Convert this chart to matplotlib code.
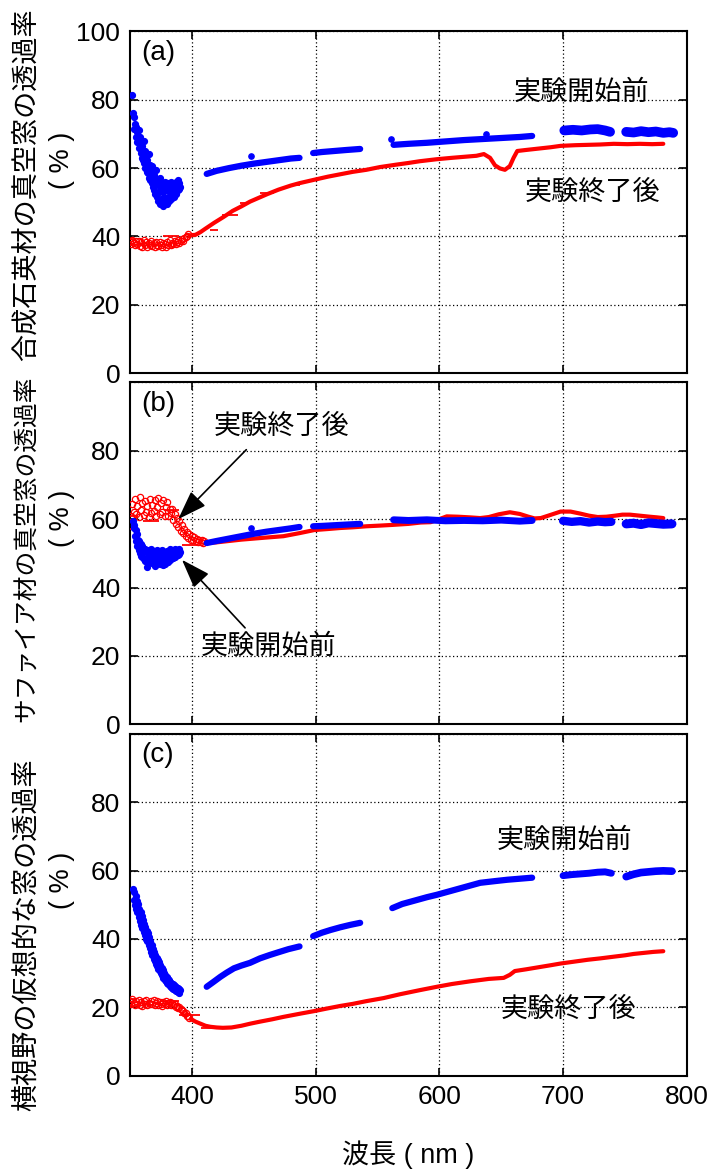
import numpy as np
import matplotlib
matplotlib.use("Agg")
import matplotlib.pyplot as plt

plt.rcParams['font.family'] = ['Liberation Sans', 'Noto Sans CJK JP']

# sampling step of the noisy short-wavelength parts (nm)
step_blue = 0.5
step_red = 1.0

# ---------------- (a) 合成石英材 ----------------
a_blue_noise_x0 = 352.0
a_blue_noise = [81.5, 76.0, 75.0, 71.5, 73.0, 69.0, 72.0, 67.5, 70.5, 68.0,
                71.0, 66.0, 69.0, 64.5, 67.5, 63.0, 66.5, 62.5, 68.0, 61.5,
                65.0, 60.0, 63.5, 59.0, 62.5, 58.5, 64.0, 57.0, 61.0, 56.5,
                59.5, 55.5, 60.5, 54.5, 58.0, 53.5, 57.0, 52.5, 59.5, 51.5,
                56.0, 50.5, 55.0, 53.0, 57.0, 49.5, 54.0, 51.0, 55.5, 49.0,
                53.0, 51.5, 56.0, 50.0, 54.5, 49.5, 53.5, 51.0, 55.5, 50.5,
                54.0, 52.0, 56.0, 51.0, 54.5, 52.5, 55.0, 51.5, 54.0, 53.0,
                56.0, 52.5, 55.0, 53.5, 56.5, 54.0, 55.5, 54.5]
a_blue_segs_x = [[412, 420, 430, 440, 450, 460, 470, 480, 487],
                 [498, 505, 515, 525, 536],
                 [563, 575, 590, 605, 620, 635, 650, 665, 675],
                 [701, 708, 715, 722, 728, 734, 738],
                 [751, 757, 763, 769, 775, 781, 786, 789]]
a_blue_segs_y = [[58.3, 59.2, 60.0, 60.7, 61.3, 61.8, 62.3, 62.8, 63.0],
                 [64.4, 64.7, 65.0, 65.3, 65.6],
                 [66.8, 67.1, 67.4, 67.8, 68.2, 68.5, 68.8, 69.1, 69.4],
                 [71.0, 71.2, 71.0, 71.3, 71.4, 71.0, 70.6],
                 [70.6, 70.4, 70.8, 70.5, 70.7, 70.3, 70.5, 70.3]]
a_blue_extra_x = [448, 561, 638]
a_blue_extra_y = [63.5, 68.6, 70.0]
a_red_noise_x0 = 350
a_red_noise = [38.5, 37.8, 39.0, 38.2, 37.5, 38.8, 37.9, 38.6, 37.3, 38.4,
               37.0, 38.9, 37.6, 38.3, 36.8, 38.1, 37.4, 38.7, 37.2, 38.0,
               36.9, 38.5, 37.6, 37.1, 38.3, 37.5, 36.8, 38.2, 37.7, 37.0,
               38.4, 37.6, 38.9, 37.4, 38.1, 37.8, 38.6, 37.9, 38.3, 39.0,
               38.2, 38.7, 39.3, 38.8, 39.6, 39.9, 40.2, 40.6]
a_red_x = [398, 403, 407, 411, 418, 426, 433, 440, 447, 454,
           461, 470, 480, 487, 499, 510, 520, 530, 541, 552,
           565, 575, 584, 598, 610, 620, 630, 636, 641, 645,
           649, 653, 657, 660, 663, 670, 680, 690, 698, 710,
           720, 730, 741, 752, 762, 772, 781]
a_red_y = [40.3, 40.5, 41.3, 42.3, 44.0, 45.8, 47.5, 48.8, 50.2, 51.3,
           52.4, 53.7, 54.9, 55.6, 56.6, 57.5, 58.2, 58.9, 59.5, 60.3,
           61.0, 61.5, 62.0, 62.6, 63.0, 63.3, 63.6, 64.1, 63.0, 60.8,
           59.9, 59.5, 60.6, 63.0, 65.0, 65.3, 65.7, 66.1, 66.5, 66.7,
           66.8, 66.9, 67.1, 67.0, 67.1, 67.0, 67.1]
a_err_x = [352, 352, 383.5, 418, 430.5, 443, 460.5, 483]
a_err_y = [39.2, 37.6, 40.2, 42.0, 46.3, 49.8, 52.7, 55.1]
a_err_w = [3, 3, 6.5, 3, 6.5, 4, 5.5, 4]

# ---------------- (b) サファイア材 ----------------
b_blue_noise_x0 = 352.5
b_blue_noise = [59.3, 57.5, 58.2, 55.0, 56.8, 53.5, 55.5, 52.2, 54.0, 51.0,
                53.5, 50.0, 52.8, 49.2, 52.0, 48.8, 51.5, 48.2, 50.8, 47.8,
                51.2, 48.5, 46.0, 50.5, 48.0, 51.0, 47.5, 50.2, 48.3, 51.3,
                47.2, 50.0, 48.6, 50.8, 47.5, 49.8, 46.2, 50.5, 48.0, 51.0,
                47.3, 49.5, 48.4, 50.6, 46.8, 49.8, 48.0, 51.0, 46.6, 49.3,
                47.8, 50.4, 47.0, 49.0, 48.5, 50.8, 47.6, 49.5, 48.2, 51.2,
                48.0, 49.6, 48.8, 50.9, 48.5, 50.0, 49.0, 51.3, 48.9, 50.2,
                49.4, 51.0, 49.5, 50.6, 49.8, 51.2, 50.3]
b_blue_segs_x = [[412, 420, 430, 440, 450, 460, 470, 480, 487],
                 [498, 505, 515, 525, 536],
                 [563, 575, 590, 605, 620, 635, 650, 665, 675],
                 [700, 707, 714, 721, 728, 734, 739],
                 [751, 757, 763, 769, 775, 781, 788]]
b_blue_segs_y = [[53.0, 53.6, 54.3, 55.0, 55.7, 56.3, 56.8, 57.3, 57.7],
                 [57.9, 58.0, 58.2, 58.4, 58.6],
                 [59.8, 59.6, 59.8, 59.5, 59.6, 59.5, 59.7, 59.4, 59.6],
                 [59.5, 59.2, 59.4, 59.0, 59.3, 59.1, 59.2],
                 [58.6, 58.8, 58.4, 58.9, 58.7, 58.5, 58.6]]
b_blue_extra_x = [448]
b_blue_extra_y = [57.3]
b_red_noise_x0 = 351
b_red_noise = [60.8, 64.5, 62.0, 65.8, 61.5, 63.8, 60.5, 66.5, 62.8, 64.6,
               61.2, 65.2, 62.0, 63.9, 60.6, 66.0, 61.8, 64.2, 62.5, 65.5,
               60.9, 63.5, 66.3, 61.5, 64.8, 62.2, 65.6, 61.0, 63.6, 64.9,
               60.8, 63.0, 61.8, 62.9, 59.8, 61.5, 58.6, 60.2, 57.8, 59.4,
               56.6, 58.3, 55.8, 57.2, 55.0, 56.3, 54.6, 55.5, 54.0, 55.2,
               53.8, 54.7, 53.5, 54.3, 53.2, 54.0, 53.4, 53.8, 53.1, 53.6]
b_red_x = [411, 420, 430, 440, 450, 460, 474, 487, 499, 510,
           520, 530, 541, 552, 562, 575, 585, 593, 600, 606,
           615, 625, 633, 640, 648, 657, 665, 672, 677, 682,
           688, 698, 706, 714, 721, 728, 735, 742, 748, 754,
           762, 770, 776, 781]
b_red_y = [53.0, 53.2, 53.6, 54.0, 54.3, 54.6, 55.0, 55.9, 56.8, 57.1,
           57.4, 57.6, 57.9, 58.1, 58.3, 58.6, 59.0, 59.1, 60.0, 60.8,
           60.7, 60.5, 60.3, 60.6, 61.4, 62.0, 61.5, 60.7, 60.2, 60.3,
           61.0, 62.2, 62.2, 61.6, 61.0, 60.6, 60.7, 61.0, 61.3, 61.3,
           61.0, 60.7, 60.5, 60.3]
b_err_x = [353, 351.5, 384, 367, 398]
b_err_y = [60.8, 57.0, 62.7, 59.3, 52.5]
b_err_w = [3.5, 2, 6, 6.5, 6]

# ---------------- (c) 横視野の仮想的な窓 ----------------
c_blue_noise_x0 = 352.5
c_blue_noise = [54.5, 51.5, 53.8, 49.8, 52.5, 48.6, 51.0, 47.8, 50.2, 46.5,
                48.8, 45.2, 47.9, 44.0, 46.8, 43.2, 45.6, 42.0, 44.3, 41.2,
                43.5, 40.1, 42.4, 39.3, 41.6, 38.2, 40.5, 37.3, 39.4, 36.3,
                38.2, 35.2, 37.0, 34.2, 36.1, 33.6, 35.2, 32.8, 34.5, 32.0,
                33.8, 31.3, 33.2, 30.6, 32.4, 30.0, 31.6, 29.3, 30.8, 28.7,
                30.1, 28.1, 29.5, 27.6, 28.9, 27.1, 28.4, 26.7, 27.9, 26.3,
                27.5, 25.9, 27.1, 25.6, 26.8, 25.3, 26.4, 25.1, 26.1, 24.9,
                25.8, 24.7, 25.6, 24.5, 25.4, 24.3, 25.2]
c_blue_segs_x = [[412, 417, 423, 428, 434, 440, 447, 455, 463, 470, 478, 487],
                 [498, 505, 512, 520, 528, 536],
                 [562, 570, 580, 590, 598, 605, 615, 625, 633, 645, 655, 665, 675],
                 [700, 707, 714, 721, 728, 734, 739],
                 [751, 757, 763, 769, 775, 781, 788]]
c_blue_segs_y = [[26.0, 27.3, 28.9, 30.1, 31.4, 32.2, 33.0, 34.3, 35.3, 36.1, 37.0, 37.8],
                 [40.8, 41.8, 42.6, 43.4, 44.1, 44.7],
                 [49.0, 50.2, 51.2, 52.2, 52.9, 53.6, 54.6, 55.6, 56.4, 56.9, 57.3, 57.6, 57.9],
                 [58.5, 58.8, 59.0, 59.2, 59.5, 59.6, 59.2],
                 [58.2, 58.9, 59.4, 59.6, 59.8, 59.9, 59.8]]
c_blue_extra_x = []
c_blue_extra_y = []
c_red_noise_x0 = 350
c_red_noise = [21.8, 20.9, 22.3, 21.2, 20.6, 21.9, 21.0, 22.1, 20.8, 21.5,
               20.5, 21.8, 21.1, 22.0, 20.7, 21.4, 20.9, 21.7, 21.0, 22.2,
               20.6, 21.3, 21.8, 20.8, 21.5, 21.1, 20.5, 21.6, 21.0, 21.9,
               20.7, 21.2, 21.6, 20.8, 21.3, 20.6, 20.9, 20.2, 20.5, 19.9,
               20.1, 19.5, 19.2, 18.9, 18.4, 18.2, 17.6, 17.4, 16.9]
c_red_x = [399, 403, 407, 411, 415, 420, 425, 432, 440, 447,
           455, 465, 474, 487, 499, 510, 520, 530, 541, 555,
           568, 584, 598, 610, 625, 640, 652, 657, 661, 670,
           680, 690, 698, 710, 720, 730, 741, 750, 757, 765,
           773, 781]
c_red_y = [16.6, 15.8, 15.2, 14.6, 14.3, 14.1, 14.0, 14.1, 14.6, 15.2,
           15.8, 16.5, 17.2, 18.1, 18.9, 19.7, 20.4, 21.0, 21.8, 22.7,
           23.8, 25.0, 26.0, 26.8, 27.6, 28.3, 28.6, 29.5, 30.6, 31.1,
           31.7, 32.3, 32.8, 33.4, 33.9, 34.3, 34.8, 35.2, 35.6, 35.9,
           36.2, 36.4]
c_err_x = [352, 352, 382, 398.3, 412]
c_err_y = [22.3, 20.3, 21.9, 17.7, 14.0]
c_err_w = [2.5, 2.5, 8, 8.3, 5]

ylabels = ['合成石英材の真空窓の透過率', 'サファイア材の真空窓の透過率', '横視野の仮想的な窓の透過率']
xticks = [400, 500, 600, 700, 800]
yticks = [0, 20, 40, 60, 80, 100]

# band widths of the blue segments (style)
seg_lw = {'a': [4.5, 4.5, 4.5, 7.0, 7.0],
          'b': [4.5, 4.5, 5.0, 6.0, 6.5],
          'c': [4.5, 4.5, 4.5, 5.0, 5.5]}


def draw_panel(ax, key, bn_x0, bn, bsx, bsy, bex, bey, rn_x0, rn, rx, ry, ex, ey, ew):
    xr = rn_x0 + step_red * np.arange(len(rn))
    ax.plot(xr, rn, 'o', ms=4.5, mfc='none', mec='red', mew=0.9, zorder=3)
    ax.plot(rx, ry, '-', color='red', lw=3.0, solid_capstyle='round', zorder=3)
    ax.errorbar(ex, ey, xerr=ew, fmt='none', ecolor='red', elinewidth=1.3, zorder=3)
    xb = bn_x0 + step_blue * np.arange(len(bn))
    ax.plot(xb, bn, 'o', ms=4.2, color='blue', mec='blue', zorder=4)
    for sx, sy, lw in zip(bsx, bsy, seg_lw[key]):
        ax.plot(sx, sy, '-', color='blue', lw=lw, solid_capstyle='round', zorder=4)
    if bex:
        ax.plot(bex, bey, 'o', ms=3.8, color='blue', zorder=4)

    ax.set_xlim(350, 800)
    ax.set_ylim(0, 100)
    ax.set_xticks(xticks)
    ax.set_yticks(yticks)
    ax.grid(True, color='black', linestyle=(0, (1, 2)), lw=0.9)
    ax.tick_params(direction='in', top=True, right=True, length=6, width=1.2,
                   labelsize=19, pad=7)
    for s in ax.spines.values():
        s.set_linewidth(1.5)
    ax.text(0.02, 0.937, '(' + key + ')', transform=ax.transAxes,
            fontsize=20, ha='left', va='center')


fig = plt.figure(figsize=(7.07, 11.71), dpi=100)
W, H = 707.0, 1171.0
left = 130 / W
width = (686.8 - 130) / W
height = 342 / H
axa = fig.add_axes([left, 1 - 373.3 / H, width, height])
axb = fig.add_axes([left, 1 - 724.3 / H, width, height])
axc = fig.add_axes([left, 1 - 1075.7 / H, width, height])

draw_panel(axa, 'a', a_blue_noise_x0, a_blue_noise, a_blue_segs_x, a_blue_segs_y,
           a_blue_extra_x, a_blue_extra_y, a_red_noise_x0, a_red_noise,
           a_red_x, a_red_y, a_err_x, a_err_y, a_err_w)
draw_panel(axb, 'b', b_blue_noise_x0, b_blue_noise, b_blue_segs_x, b_blue_segs_y,
           b_blue_extra_x, b_blue_extra_y, b_red_noise_x0, b_red_noise,
           b_red_x, b_red_y, b_err_x, b_err_y, b_err_w)
draw_panel(axc, 'c', c_blue_noise_x0, c_blue_noise, c_blue_segs_x, c_blue_segs_y,
           c_blue_extra_x, c_blue_extra_y, c_red_noise_x0, c_red_noise,
           c_red_x, c_red_y, c_err_x, c_err_y, c_err_w)

for ax in (axa, axb):
    ax.set_xticklabels([])
for ax in (axb, axc):
    ax.set_yticklabels(['0', '20', '40', '60', '80', ''])

# annotations
fs = 19.5
axa.text(715, 82, '実験開始前', fontsize=fs, ha='center', va='center')
axa.text(724, 52.8, '実験終了後', fontsize=fs, ha='center', va='center')
arrow = dict(arrowstyle='-|>,head_length=1.0,head_width=0.35', color='black',
             lw=1.2, shrinkA=0, shrinkB=0, mutation_scale=18)
axb.text(472, 87, '実験終了後', fontsize=fs, ha='center', va='center')
axb.annotate('', xy=(389, 60), xytext=(444, 80.3), arrowprops=arrow)
axb.text(462, 22.7, '実験開始前', fontsize=fs, ha='center', va='center')
axb.annotate('', xy=(392, 48.1), xytext=(443, 28.2), arrowprops=arrow)
axc.text(701, 68.8, '実験開始前', fontsize=fs, ha='center', va='center')
axc.text(704, 19.2, '実験終了後', fontsize=fs, ha='center', va='center')

# y labels (two lines each)
lab_y = [185, 549, 935]
lab_fs = [19.5, 17.8, 19.5]
pct_y = [160, 518, 880]
for t, yl, yp, f in zip(ylabels, lab_y, pct_y, lab_fs):
    fig.text(27 / W, 1 - yl / H, t, rotation=90, fontsize=f, ha='center', va='center')
    fig.text(62 / W, 1 - yp / H, '( % )', rotation=90, fontsize=19.5, ha='center', va='center')

fig.text(408 / W, 1 - 1155 / H, '波長 ( nm )', fontsize=19.5, ha='center', va='center')

fig.savefig('out.png', dpi=100)
